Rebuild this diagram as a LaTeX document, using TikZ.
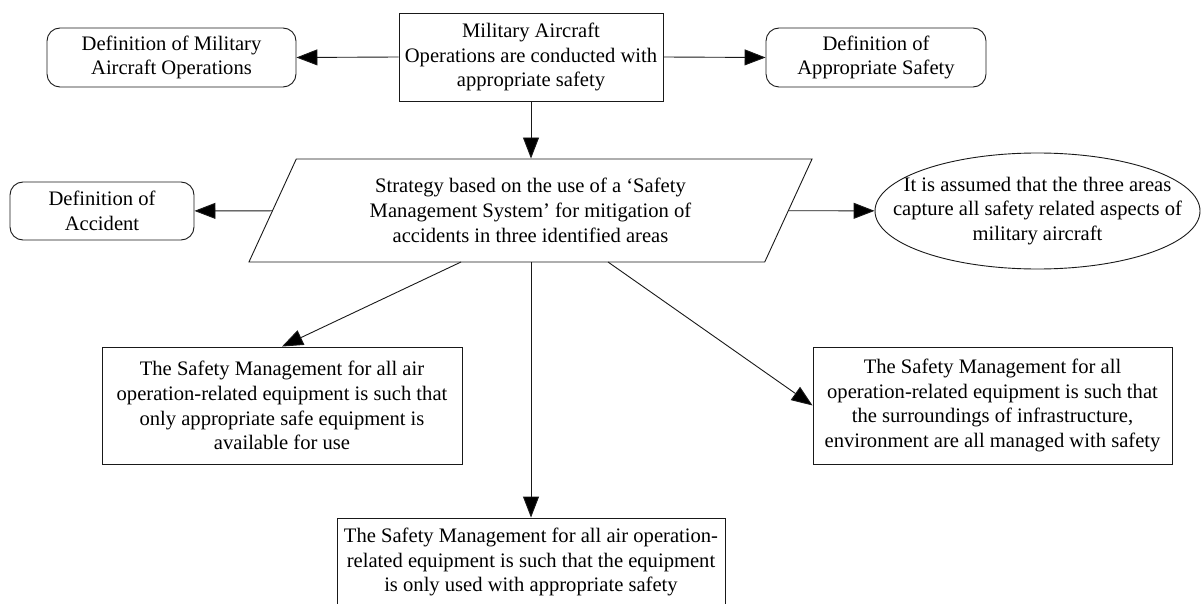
\documentclass[tikz,border=0pt]{standalone}
\usepackage{fontspec}
\setmainfont{Liberation Serif}
\usetikzlibrary{arrows.meta,shapes.geometric,calc}
\begin{document}
\begin{tikzpicture}[x=1pt,y=-1pt,
  every node/.style={font=\fontsize{20.6}{24.8}\selectfont, align=center, inner sep=0pt, draw=black!90, line width=0.9pt},
  sqbox/.style={rectangle},
  rbox/.style={rectangle, rounded corners=13pt},
  conn/.style={draw=black!90, line width=0.9pt, -{Triangle[length=21pt,width=16pt,fill=black]}}
]
\useasboundingbox (0,0) rectangle (1201,604);

\node[sqbox, minimum width=264pt, minimum height=88pt] (top) at (531,57)
  {Military Aircraft\\Operations are conducted with\\appropriate safety};
\node[rbox, minimum width=249pt, minimum height=59pt] (defm) at (171.5,57.5)
  {Definition of Military\\Aircraft Operations};
\node[rbox, minimum width=220pt, minimum height=59pt] (defa) at (876,57.5)
  {Definition of\\Appropriate Safety};

\node[trapezium, trapezium stretches=true, trapezium left angle=63.2, trapezium right angle=116.8,
  minimum width=565pt, minimum height=103pt] (strat) at (530.5,210.5)
  {Strategy based on the use of a ‘Safety\\Management System’ for mitigation of\\accidents in three identified areas};

\node[rbox, minimum width=184pt, minimum height=58pt] (acc) at (102,211)
  {Definition of\\Accident};
\node[ellipse, minimum width=325pt, minimum height=116pt, inner xsep=-40pt, inner ysep=-20pt] (ell) at (1037.5,211)
  {It is assumed that the three areas\\capture all safety related aspects of\\military aircraft};

\node[sqbox, minimum width=360pt, minimum height=117pt] (sm1) at (282,405.5)
  {The Safety Management for all air\\operation-related equipment is such that\\only appropriate safe equipment is\\available for use};
\node[sqbox, minimum width=359pt, minimum height=117pt] (sm3) at (992.5,405.5)
  {The Safety Management for all\\operation-related equipment is such that\\the surroundings of infrastructure,\\environment are all managed with safety};
\node[sqbox, minimum width=388pt, minimum height=88pt] (bot) at (531,562)
  {The Safety Management for all air operation-\\related equipment is such that the equipment\\is only used with appropriate safety};

\coordinate (sl) at (461,262);
\coordinate (sm) at (531,262);
\coordinate (sr) at (608,262);

\draw[conn] (top.west) -- (defm.east);
\draw[conn] (top.east) -- (defa.west);
\draw[conn] (top.south) -- (top.south |- strat.north);
\draw[conn] (strat) -- (acc);
\draw[conn] (strat) -- (ell);
\draw[conn] (sl) -- (sm1.north);
\draw[conn] (sm) -- (bot.north);
\draw[conn] (sr) -- (sm3.west);
\end{tikzpicture}
\end{document}
